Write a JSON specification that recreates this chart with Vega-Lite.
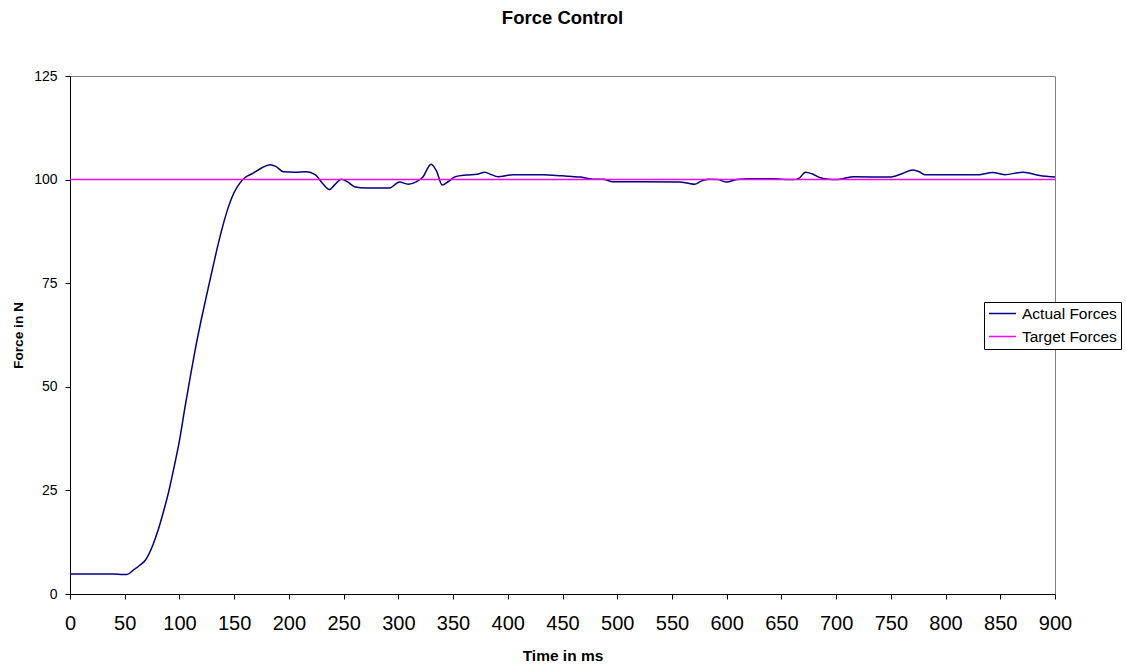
{
  "$schema": "https://vega.github.io/schema/vega-lite/v6.json",
  "width": 985,
  "height": 518,
  "autosize": "none",
  "padding": {"left": 70, "top": 76, "right": 71, "bottom": 74},
  "background": "white",
  "title": {"text": "Force Control", "font": "Liberation Sans", "fontSize": 18.5, "fontWeight": "bold", "color": "black", "anchor": "middle", "offset": 42},
  "config": {
    "view": {"stroke": "#808080", "strokeWidth": 1},
    "font": "Liberation Sans"
  },
  "data": {"values": [
    {"t": 0, "f": 4.8, "series": "Actual Forces"},
    {"t": 10, "f": 4.8, "series": "Actual Forces"},
    {"t": 20, "f": 4.8, "series": "Actual Forces"},
    {"t": 30, "f": 4.8, "series": "Actual Forces"},
    {"t": 40, "f": 4.8, "series": "Actual Forces"},
    {"t": 48, "f": 4.7, "series": "Actual Forces"},
    {"t": 52, "f": 4.7, "series": "Actual Forces"},
    {"t": 58, "f": 5.8, "series": "Actual Forces"},
    {"t": 64, "f": 7.0, "series": "Actual Forces"},
    {"t": 69, "f": 8.2, "series": "Actual Forces"},
    {"t": 76, "f": 12.0, "series": "Actual Forces"},
    {"t": 80, "f": 15.0, "series": "Actual Forces"},
    {"t": 85, "f": 19.5, "series": "Actual Forces"},
    {"t": 90, "f": 24.5, "series": "Actual Forces"},
    {"t": 95, "f": 30.5, "series": "Actual Forces"},
    {"t": 100, "f": 37.0, "series": "Actual Forces"},
    {"t": 105, "f": 45.0, "series": "Actual Forces"},
    {"t": 110, "f": 52.6, "series": "Actual Forces"},
    {"t": 115, "f": 59.8, "series": "Actual Forces"},
    {"t": 120, "f": 66.3, "series": "Actual Forces"},
    {"t": 125, "f": 72.3, "series": "Actual Forces"},
    {"t": 130, "f": 78.2, "series": "Actual Forces"},
    {"t": 135, "f": 84.0, "series": "Actual Forces"},
    {"t": 140, "f": 89.2, "series": "Actual Forces"},
    {"t": 145, "f": 93.6, "series": "Actual Forces"},
    {"t": 150, "f": 96.9, "series": "Actual Forces"},
    {"t": 155, "f": 99.1, "series": "Actual Forces"},
    {"t": 160, "f": 100.5, "series": "Actual Forces"},
    {"t": 167, "f": 101.5, "series": "Actual Forces"},
    {"t": 175, "f": 102.8, "series": "Actual Forces"},
    {"t": 183, "f": 103.6, "series": "Actual Forces"},
    {"t": 188, "f": 103.2, "series": "Actual Forces"},
    {"t": 195, "f": 101.9, "series": "Actual Forces"},
    {"t": 205, "f": 101.8, "series": "Actual Forces"},
    {"t": 216, "f": 101.9, "series": "Actual Forces"},
    {"t": 224, "f": 101.2, "series": "Actual Forces"},
    {"t": 231, "f": 99.0, "series": "Actual Forces"},
    {"t": 237, "f": 97.6, "series": "Actual Forces"},
    {"t": 242, "f": 98.8, "series": "Actual Forces"},
    {"t": 248, "f": 100.1, "series": "Actual Forces"},
    {"t": 254, "f": 99.4, "series": "Actual Forces"},
    {"t": 260, "f": 98.3, "series": "Actual Forces"},
    {"t": 270, "f": 98.0, "series": "Actual Forces"},
    {"t": 292, "f": 98.0, "series": "Actual Forces"},
    {"t": 301, "f": 99.4, "series": "Actual Forces"},
    {"t": 309, "f": 98.9, "series": "Actual Forces"},
    {"t": 316, "f": 99.4, "series": "Actual Forces"},
    {"t": 322, "f": 100.5, "series": "Actual Forces"},
    {"t": 330, "f": 103.7, "series": "Actual Forces"},
    {"t": 335, "f": 102.0, "series": "Actual Forces"},
    {"t": 340, "f": 98.7, "series": "Actual Forces"},
    {"t": 346, "f": 99.6, "series": "Actual Forces"},
    {"t": 352, "f": 100.7, "series": "Actual Forces"},
    {"t": 362, "f": 101.1, "series": "Actual Forces"},
    {"t": 372, "f": 101.3, "series": "Actual Forces"},
    {"t": 379, "f": 101.8, "series": "Actual Forces"},
    {"t": 385, "f": 101.2, "series": "Actual Forces"},
    {"t": 391, "f": 100.7, "series": "Actual Forces"},
    {"t": 405, "f": 101.2, "series": "Actual Forces"},
    {"t": 432, "f": 101.2, "series": "Actual Forces"},
    {"t": 450, "f": 100.9, "series": "Actual Forces"},
    {"t": 466, "f": 100.6, "series": "Actual Forces"},
    {"t": 478, "f": 100.1, "series": "Actual Forces"},
    {"t": 487, "f": 100.1, "series": "Actual Forces"},
    {"t": 496, "f": 99.5, "series": "Actual Forces"},
    {"t": 520, "f": 99.5, "series": "Actual Forces"},
    {"t": 557, "f": 99.4, "series": "Actual Forces"},
    {"t": 565, "f": 99.1, "series": "Actual Forces"},
    {"t": 571, "f": 98.9, "series": "Actual Forces"},
    {"t": 578, "f": 99.8, "series": "Actual Forces"},
    {"t": 585, "f": 100.1, "series": "Actual Forces"},
    {"t": 592, "f": 100.0, "series": "Actual Forces"},
    {"t": 600, "f": 99.4, "series": "Actual Forces"},
    {"t": 609, "f": 100.0, "series": "Actual Forces"},
    {"t": 621, "f": 100.2, "series": "Actual Forces"},
    {"t": 640, "f": 100.2, "series": "Actual Forces"},
    {"t": 661, "f": 100.0, "series": "Actual Forces"},
    {"t": 666, "f": 100.3, "series": "Actual Forces"},
    {"t": 672, "f": 101.8, "series": "Actual Forces"},
    {"t": 678, "f": 101.4, "series": "Actual Forces"},
    {"t": 685, "f": 100.5, "series": "Actual Forces"},
    {"t": 693, "f": 100.1, "series": "Actual Forces"},
    {"t": 700, "f": 100.0, "series": "Actual Forces"},
    {"t": 706, "f": 100.2, "series": "Actual Forces"},
    {"t": 716, "f": 100.7, "series": "Actual Forces"},
    {"t": 749, "f": 100.6, "series": "Actual Forces"},
    {"t": 760, "f": 101.4, "series": "Actual Forces"},
    {"t": 770, "f": 102.3, "series": "Actual Forces"},
    {"t": 776, "f": 101.9, "series": "Actual Forces"},
    {"t": 781, "f": 101.2, "series": "Actual Forces"},
    {"t": 800, "f": 101.2, "series": "Actual Forces"},
    {"t": 831, "f": 101.2, "series": "Actual Forces"},
    {"t": 843, "f": 101.7, "series": "Actual Forces"},
    {"t": 854, "f": 101.2, "series": "Actual Forces"},
    {"t": 871, "f": 101.8, "series": "Actual Forces"},
    {"t": 886, "f": 101.0, "series": "Actual Forces"},
    {"t": 900, "f": 100.6, "series": "Actual Forces"},
    {"t": 0, "f": 100, "series": "Target Forces"},
    {"t": 900, "f": 100, "series": "Target Forces"}
  ]},
  "mark": {"type": "line", "interpolate": "monotone", "strokeWidth": 1.5},
  "encoding": {
    "x": {
      "field": "t", "type": "quantitative",
      "scale": {"domain": [0, 900], "nice": false, "zero": true},
      "axis": {
        "title": "Time in ms", "values": [0,50,100,150,200,250,300,350,400,450,500,550,600,650,700,750,800,850,900],
        "grid": false, "domainColor": "black", "tickColor": "black", "tickSize": 5,
        "labelFontSize": 20, "labelColor": "black", "labelPadding": 14, "labelFont": "Liberation Sans",
        "titleFontSize": 15.5, "titleFont": "Liberation Sans", "titleFontWeight": "bold", "titleColor": "black", "titlePadding": 15,
        "labelFlush": false, "labelOverlap": false
      }
    },
    "y": {
      "field": "f", "type": "quantitative",
      "scale": {"domain": [0, 125], "nice": false},
      "axis": {
        "title": "Force in N", "values": [0,25,50,75,100,125],
        "grid": false, "domainColor": "black", "tickColor": "black", "tickSize": 5,
        "labelFontSize": 14, "labelColor": "black", "labelPadding": 8, "labelFont": "Liberation Sans",
        "titleFontSize": 13.7, "titleFont": "Liberation Sans", "titleFontWeight": "bold", "titleColor": "black", "titlePadding": 8
      }
    },
    "color": {
      "field": "series", "type": "nominal",
      "scale": {"domain": ["Actual Forces", "Target Forces"], "range": ["#000080", "#FF00FF"]},
      "legend": {
        "title": null, "orient": "none", "legendX": 914, "legendY": 226,
        "symbolType": "stroke", "symbolSize": 729, "symbolStrokeWidth": 1.5,
        "labelFontSize": 15.5, "labelFont": "Liberation Sans", "labelColor": "black", "labelOffset": 5,
        "strokeColor": "black", "fillColor": "white", "padding": 4, "rowPadding": 7, "clipHeight": 15
      }
    }
  }
}
